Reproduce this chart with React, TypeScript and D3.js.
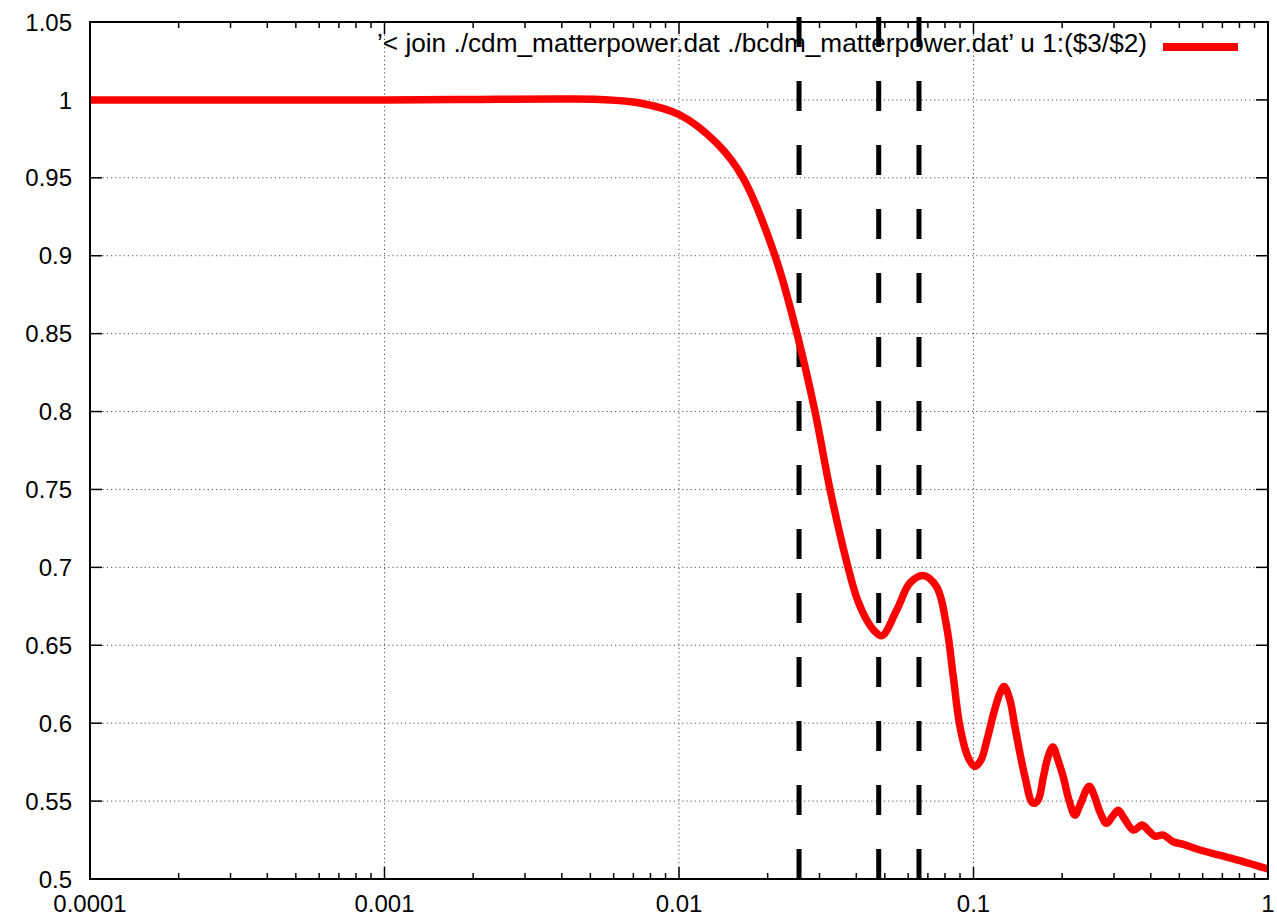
import React from "react";
import * as d3 from "d3";

const kValues: number[] = [
  0.0001, 0.001, 0.00211, 0.00394, 0.00537, 0.00737, 0.01008, 0.01343, 0.0165, 0.02118,
  0.02516, 0.02896, 0.03257, 0.0375, 0.04022, 0.04315, 0.04594, 0.0489, 0.05486,
  0.06087, 0.0675, 0.075, 0.0811, 0.0854, 0.09, 0.0958, 0.101, 0.106, 0.1111, 0.1174,
  0.123, 0.127, 0.133, 0.1383, 0.1496, 0.159, 0.1656, 0.1726, 0.179, 0.186,
  0.1936, 0.2018, 0.211, 0.221, 0.2299, 0.247, 0.2566, 0.2689, 0.283, 0.2954,
  0.31, 0.3243, 0.349, 0.374, 0.3914, 0.413, 0.441, 0.476, 0.513, 0.5875,
  0.743, 1.0,
];
const ratioValues: number[] = [
  1.0, 1.0, 1.0003, 1.0006, 1.0003, 0.998, 0.9903, 0.9722, 0.95, 0.9,
  0.85, 0.8, 0.75, 0.7, 0.68, 0.667, 0.6595, 0.6562, 0.6726,
  0.69, 0.6948, 0.6874, 0.6617, 0.6296, 0.5975, 0.5782, 0.5722, 0.5763, 0.5892, 0.6071,
  0.6193, 0.6235, 0.6148, 0.5975, 0.5654, 0.5487, 0.5506, 0.5654, 0.5782, 0.5847,
  0.5763, 0.5654, 0.5506, 0.541, 0.5474, 0.5596, 0.5539, 0.5429, 0.5357, 0.5398,
  0.5442, 0.5391, 0.5314, 0.5346, 0.5314, 0.5275, 0.5282, 0.5239, 0.5224, 0.5186,
  0.5135, 0.5064,
];
const markerK: number[] = [0.02556, 0.04766, 0.0653];
const xTickValues: number[] = [0.0001, 0.001, 0.01, 0.1, 1];
const xTickLabels: string[] = ["0.0001", "0.001", "0.01", "0.1", "1"];
const yTickValues: number[] = [0.5, 0.55, 0.6, 0.65, 0.7, 0.75, 0.8, 0.85, 0.9, 0.95, 1.0, 1.05];
const yTickLabels: string[] = ["0.5", "0.55", "0.6", "0.65", "0.7", "0.75", "0.8", "0.85", "0.9", "0.95", "1", "1.05"];
const legendLabel = "\u2019< join ./cdm_matterpower.dat ./bcdm_matterpower.dat\u2019 u 1:($3/$2)";

const W = 1277;
const H = 920;
const L = 90, R = 1268, T = 22, B = 879;
const FONT = "'Liberation Sans', Arial, Helvetica, sans-serif";

export default function App() {
  const x = d3.scaleLog().domain([0.0001, 1]).range([L, R]);
  const y = d3.scaleLinear().domain([0.5, 1.05]).range([B, T]);

  const minorX: number[] = [];
  for (let e = -4; e < 0; e++) {
    for (let m = 2; m <= 9; m++) minorX.push(m * Math.pow(10, e));
  }

  const pts = kValues.map((k, i) => [k, ratioValues[i]] as [number, number]);
  const line = d3
    .line<[number, number]>()
    .x((d) => x(d[0]))
    .y((d) => y(d[1]))
    .curve(d3.curveCatmullRom.alpha(0.5));

  return (
    <svg
      width={W}
      height={H}
      style={{ position: "absolute", left: 0, top: 0, background: "#fff" }}
      fontFamily={FONT}
    >
      <rect x={0} y={0} width={W} height={H} fill="#fff" />
      {/* grid */}
      <g stroke="#555" strokeWidth={1} strokeDasharray="1.2,3">
        {yTickValues.slice(1, -1).map((v) => (
          <line key={"gy" + v} x1={L} x2={R} y1={y(v)} y2={y(v)} />
        ))}
        {xTickValues.slice(1, -1).map((v) => (
          <line key={"gx" + v} x1={x(v)} x2={x(v)} y1={T} y2={B} />
        ))}
      </g>
      {/* ticks */}
      <g stroke="#000" strokeWidth={1.5}>
        {yTickValues.map((v) => (
          <g key={"ty" + v}>
            <line x1={L} x2={L + 12} y1={y(v)} y2={y(v)} />
            <line x1={R} x2={R - 12} y1={y(v)} y2={y(v)} />
          </g>
        ))}
        {xTickValues.map((v) => (
          <g key={"tx" + v}>
            <line x1={x(v)} x2={x(v)} y1={B} y2={B - 12} />
            <line x1={x(v)} x2={x(v)} y1={T} y2={T + 12} />
          </g>
        ))}
        {minorX.map((v) => (
          <g key={"mx" + v}>
            <line x1={x(v)} x2={x(v)} y1={B} y2={B - 6} />
            <line x1={x(v)} x2={x(v)} y1={T} y2={T + 6} />
          </g>
        ))}
      </g>
      {/* tick labels */}
      <g fontSize={24} fill="#000">
        {yTickValues.map((v, i) => (
          <text key={"ly" + v} x={72} y={y(v)} dy="0.36em" textAnchor="end">
            {yTickLabels[i]}
          </text>
        ))}
        {xTickValues.map((v, i) => (
          <text key={"lx" + v} x={x(v)} y={912} textAnchor="middle">
            {xTickLabels[i]}
          </text>
        ))}
      </g>
      {/* dashed markers */}
      <g stroke="#000" strokeWidth={5} strokeDasharray="30,34">
        {markerK.map((k) => (
          <line key={"mk" + k} x1={x(k)} x2={x(k)} y1={y(0.5)} y2={y(1.0545)} />
        ))}
      </g>
      {/* curve */}
      <path d={line(pts) || ""} fill="none" stroke="#ff0000" strokeWidth={7.5} strokeLinejoin="round" />
      {/* legend */}
      <text x={1147} y={52} fontSize={26} textAnchor="end" fill="#000" textLength={770} lengthAdjust="spacingAndGlyphs">
        {legendLabel}
      </text>
      <line x1={1163} x2={1238} y1={47} y2={47} stroke="#ff0000" strokeWidth={8} />
      {/* frame */}
      <rect x={L} y={T} width={R - L} height={B - T} fill="none" stroke="#000" strokeWidth={2} />
    </svg>
  );
}
